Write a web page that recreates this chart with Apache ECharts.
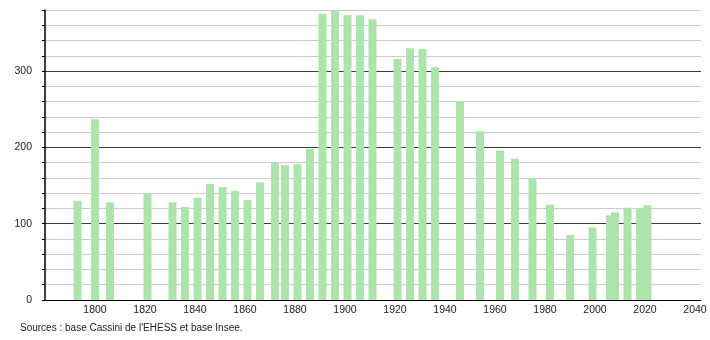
<!DOCTYPE html>
<html>
<head>
<meta charset="utf-8">
<script src="https://cdn.jsdelivr.net/npm/echarts@6/dist/echarts.min.js"></script>
<style>html,body{margin:0;padding:0;background:#fff}#c{width:710px;height:340px}</style>
</head>
<body>
<div id="c"></div>
<script>
var years = [1793,1800,1806,1821,1831,1836,1841,1846,1851,1856,1861,1866,1872,1876,1881,1886,1891,1896,1901,1906,1911,1921,1926,1931,1936,1946,1954,1962,1968,1975,1982,1990,1999,2006,2008,2013,2018,2021];
var population = [130,237,128,139,128,122,134,152,148,143,131,154,180,177,178,198,375,380,373,373,368,316,330,329,305,260,221,196,185,160,125,85,95,111,115,121,119,124];
var yTickLabels = [0,100,200,300];
var xTickLabels = [1800,1820,1840,1860,1880,1900,1920,1940,1960,1980,2000,2020,2040];
var sourceText = "Sources : base Cassini de l'EHESS et base Insee.";

var data = years.map(function(y,i){return [y, population[i]];});
var chart = echarts.init(document.getElementById('c'), null, {renderer:'canvas'});
chart.setOption({
  animation:false,
  grid:{left:45, top:10, width:656, height:290, containLabel:false},
  xAxis:{
    type:'value', min:1780, max:2042.4, interval:20,
    axisLine:{show:true, lineStyle:{color:'#000', width:1}},
    axisTick:{show:false},
    splitLine:{show:false},
    axisLabel:{
      color:'#222', fontSize:10.5, fontFamily:'Liberation Sans, Arial, sans-serif', margin:5,
      showMaxLabel:false,
      formatter:function(v){return xTickLabels.indexOf(v)>=0 ? String(v) : '';}
    }
  },
  yAxis:{
    type:'value', min:0, max:380, interval:20,
    axisLine:{show:true, lineStyle:{color:'#000', width:1.5}},
    axisTick:{show:true, length:3, lineStyle:{color:'#000'}},
    splitLine:{show:true, lineStyle:{color:['#3a3a3a','#cccccc','#cccccc','#cccccc','#cccccc'], width:1}},
    axisLabel:{
      color:'#222', fontSize:10.5, fontFamily:'Liberation Sans, Arial, sans-serif', margin:13,
      formatter:function(v){return yTickLabels.indexOf(v)>=0 ? String(v) : '';}
    }
  },
  graphic:[{type:'text', left:20, top:323, style:{text:sourceText, fill:'#222', font:'10px "Liberation Sans", Arial, sans-serif'}}],
  series:[{
    type:'bar', data:data, barWidth:8,
    itemStyle:{color:'#ade3ad'},
    z:3
  }]
});
</script>
</body>
</html>
